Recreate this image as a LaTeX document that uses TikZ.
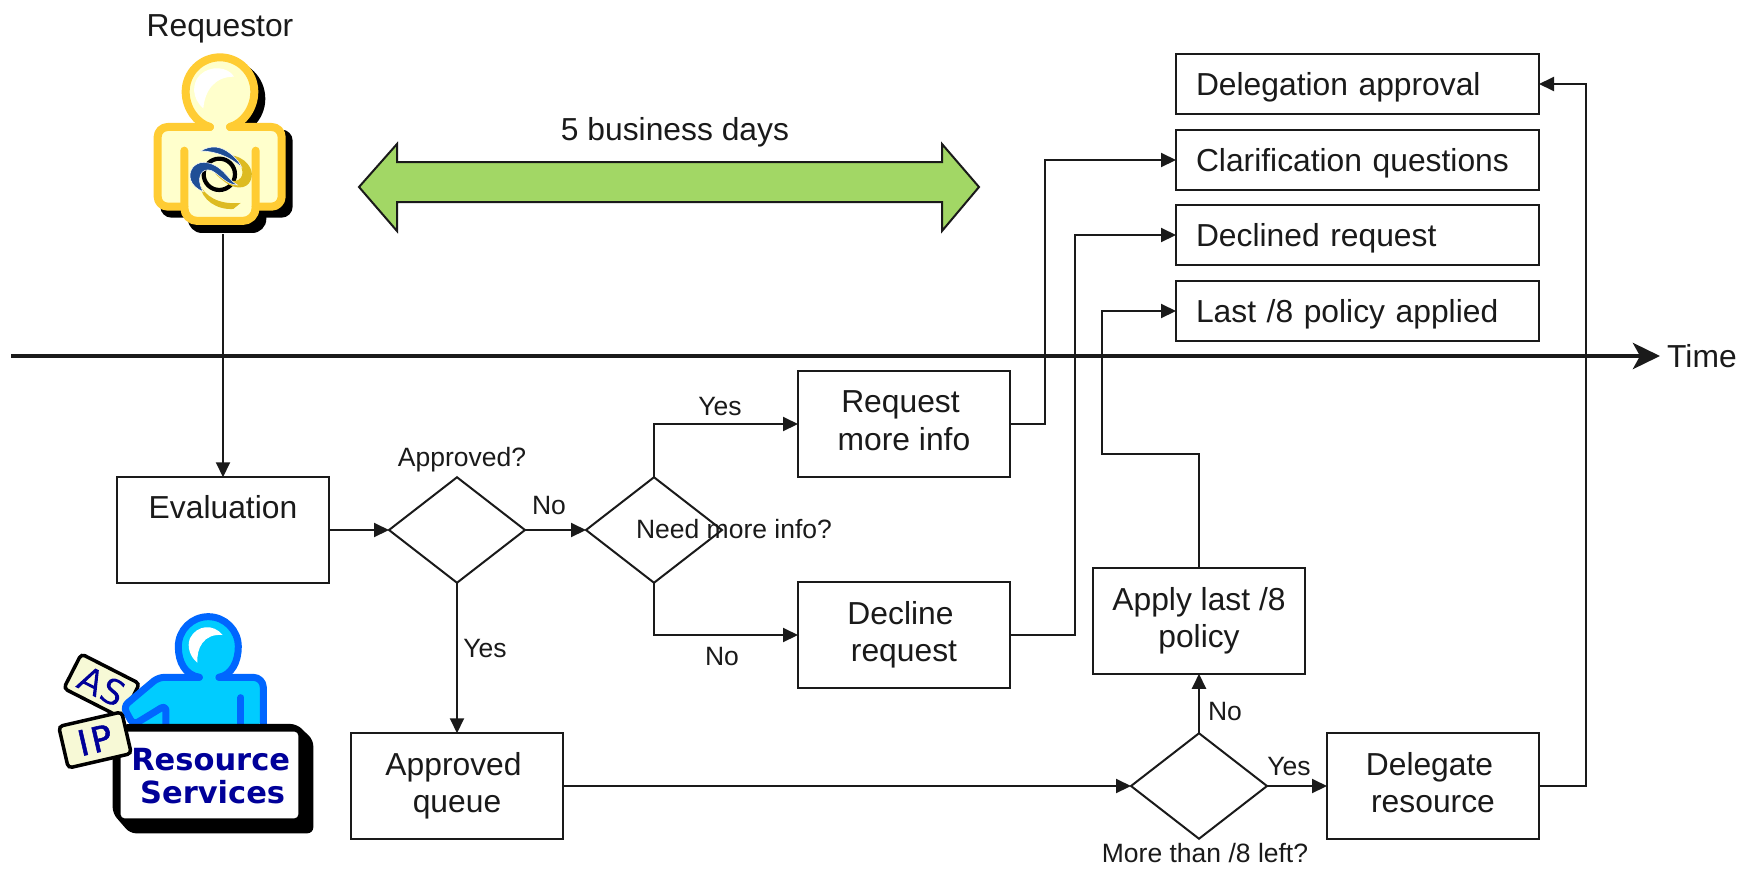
\documentclass[tikz,border=0pt]{standalone}
\usepackage{fontspec}
\setmainfont{Liberation Sans}
\newfontfamily\dvb{DejaVu Sans}
\usetikzlibrary{shapes.geometric,arrows.meta}
\definecolor{ink}{HTML}{1A1A1A}
\definecolor{navyt}{HTML}{000099}
\definecolor{ygold}{HTML}{FFCC33}
\definecolor{ycream}{HTML}{FFFFCC}
\definecolor{bstroke}{HTML}{0066FF}
\definecolor{bfill}{HTML}{00CCFF}
\definecolor{garrow}{HTML}{A2D765}
\definecolor{cardf}{HTML}{F7F9D6}
\definecolor{lblue}{HTML}{1F4E96}
\definecolor{lgold}{HTML}{DDBB22}
\newcommand{\bigf}{\fontsize{31.8}{37.5}\selectfont}
\newcommand{\smf}{\fontsize{26.5}{30}\selectfont}
\newcommand{\lastd}{\rule[-6.7pt]{0pt}{1pt}}
\newcommand{\tsp}{\hspace*{7pt}}
\tikzset{
  box/.style={draw=ink,line width=2pt,fill=white,minimum width=212,minimum height=105.5,align=center,inner sep=0pt,outer sep=0pt,font=\bigf,text=ink},
  resbox/.style={draw=ink,line width=2pt,fill=white,minimum width=363,minimum height=60,text width=323,align=left,inner xsep=20,inner ysep=0pt,outer sep=0pt,font=\bigf,text=ink,text height=23pt,text depth=0pt},
  dec/.style={draw=ink,line width=2pt,fill=white,diamond,minimum width=136,minimum height=105.5,inner sep=0pt,outer sep=0pt},
  lbl/.style={font=\smf,text=ink,inner sep=0pt},
  biglbl/.style={font=\bigf,text=ink,inner sep=0pt},
  conn/.style={draw=ink,line width=2pt,-{Triangle[length=15pt,width=14pt]}},
}
\begin{document}
\begin{tikzpicture}[x=1pt,y=-1pt]
\useasboundingbox (0,0) rectangle (1749,868);
\fill[white] (0,0) rectangle (1749,868);

% Requestor icon (coordinates: 3x zoomed units)
\begin{scope}[shift={(120,0)},x=0.3333pt,y=-0.3333pt]
  \begin{scope}[shift={(21,21)}]
    \fill[black] (300,275) circle[radius=115];
    \fill[black,rounded corners=11pt] (100,368) rectangle (497,632);
    \fill[black,rounded corners=14pt] (183,500) rectangle (418,678);
  \end{scope}
  \fill[ycream] (300,275) circle[radius=110];
  \fill[ycream,rounded corners=10pt] (108,376) rectangle (490,625);
  \fill[ycream,rounded corners=13pt] (188,500) rectangle (412,668);
  \draw[ygold,line width=8pt,line cap=round,line join=round]
    (270,381) .. controls (230,370) and (197,325) .. (197,275)
    arc[start angle=180,end angle=360,radius=103]
    .. controls (403,325) and (370,370) .. (330,381);
  \draw[ygold,line width=8pt,line cap=round,line join=round,rounded corners=10pt]
    (330,381) -- (485,381) -- (485,620) -- (407,620);
  \draw[ygold,line width=8pt,line cap=round,line join=round,rounded corners=10pt]
    (270,381) -- (113,381) -- (113,620) -- (193,620);
  \draw[ygold,line width=8pt,line cap=round,line join=round,rounded corners=13pt]
    (193,452) -- (193,663) -- (407,663) -- (407,452);
  \fill[white] (342,230) .. controls (325,200) and (270,195) .. (240,225) .. controls (215,250) and (215,295) .. (250,325) .. controls (255,270) and (285,230) .. (342,230) -- cycle;
  % logo
  \begin{scope}[shift={(180,405)}]
    \draw[black,line width=4.2pt] (118,118) circle[radius=47];
    \fill[lgold] (150,60) .. controls (195,65) and (220,100) .. (215,125) .. controls (210,160) and (175,165) .. (145,148) .. controls (125,135) and (115,125) .. (105,115) .. controls (130,130) and (150,145) .. (175,135) .. controls (200,120) and (185,80) .. (150,60) -- cycle;
    \fill[lgold] (60,150) .. controls (75,180) and (110,210) .. (182,204) -- (160,222) .. controls (110,225) and (65,195) .. (60,150) -- cycle;
    \filldraw[lblue,draw=white,line width=0.5pt] (62,48) .. controls (95,28) and (125,35) .. (150,55) .. controls (170,70) and (180,85) .. (185,97) .. controls (150,65) and (105,48) .. (62,48) -- cycle;
    \filldraw[lblue,draw=white,line width=0.5pt] (70,170) .. controls (30,155) and (20,120) .. (40,95) .. controls (65,70) and (105,85) .. (130,110) .. controls (145,125) and (155,140) .. (172,150) .. controls (140,150) and (120,120) .. (95,107) .. controls (65,95) and (45,130) .. (70,170) -- cycle;
  \end{scope}
\end{scope}
\coordinate (reqicon) at (223,234);
\node[biglbl] (reqlbl) at (220,28.5) {Requestor};

% 5 business days arrow
\node[biglbl] (dayslbl) at (675,132) {5 business days};
\path[draw=ink,line width=2pt,fill=garrow,line join=miter]
  (359,187) -- (397,144) -- (397,162) -- (942,162) -- (942,144) -- (979,187) -- (942,231) -- (942,202) -- (397,202) -- (397,231) -- cycle;

% Time axis
\coordinate (tstart) at (11,356);
\coordinate (tend) at (1660,356);
\draw[draw=ink,line width=4.5pt,-{Stealth[length=27pt,width=26pt,inset=7pt]}] (tstart) -- (tend);
\node[biglbl,anchor=west] (timelbl) at (1667,356) {Time};

% Result boxes
\node[resbox] (b1) at (1357.5,84) {Delegation approval};
\node[resbox] (b2) at (1357.5,160) {Clarification questions};
\node[resbox] (b3) at (1357.5,235) {Declined request};
\node[resbox] (b4) at (1357.5,311) {Last /8 policy applied};

% Process boxes
\node[box] (eval) at (223,530) {Evaluation\\[8pt]\mbox{}};
\node[dec] (appr) at (457,530) {};
\node[dec] (need) at (654,530) {};
\node[box] (req) at (904,424) {Request\tsp\\more info\lastd};
\node[box] (decl) at (904,635) {Decline\tsp\\request\lastd};
\node[box] (queue) at (457,786) {Approved\tsp\\queue\lastd};
\node[dec] (left) at (1199,786) {};
\node[box] (dele) at (1433,786) {Delegate\tsp\\resource\lastd};
\node[box] (apply) at (1199,621) {Apply last /8\\policy\lastd};

% Connectors
\coordinate (c1) at (1045,424);
\coordinate (c2) at (1075,635);
\coordinate (c3) at (1199,454);
\coordinate (c4) at (1102,454);
\coordinate (c5) at (1586,786);
\draw[conn] (reqicon) -- (eval.north);
\draw[conn] (eval.east) -- (appr.west);
\draw[conn] (appr.east) -- (need.west);
\draw[conn] (appr.south) -- (queue.north);
\draw[conn] (need.north) |- (req.west);
\draw[conn] (need.south) |- (decl.west);
\draw[conn] (req.east) -- (c1) |- (b2.west);
\draw[conn] (decl.east) -- (c2) |- (b3.west);
\draw[conn] (apply.north) -- (c3) -- (c4) |- (b4.west);
\draw[conn] (queue.east) -- (left.west);
\draw[conn] (left.north) -- (apply.south);
\draw[conn] (left.east) -- (dele.west);
\draw[conn] (dele.east) -- (c5) |- (b1.east);

% Labels
\node[lbl] (l1) at (462,460) {Approved?};
\node[lbl] (l2) at (549,506) {No};
\node[lbl] (l3) at (720,407) {Yes};
\node[lbl] (l4) at (734,529) {Need more info?};
\node[lbl] (l5) at (722,657) {No};
\node[lbl] (l6) at (485,649) {Yes};
\node[lbl] (l7) at (1225,712) {No};
\node[lbl] (l8) at (1289,767) {Yes};
\node[lbl] (l9) at (1205,853) {More than /8 left?};

% Resource Services icon
\begin{scope}[shift={(40,600)},x=0.3333pt,y=-0.3333pt]
  \begin{scope}[shift={(185,258)},rotate=-27]
    \draw[black,fill=cardf,line width=3.5pt,rounded corners=4pt] (-98,-58) rectangle (98,58);
    \node[font=\dvb\fontsize{35}{35}\selectfont,text=navyt,rotate=-27,inner sep=0pt,draw=navyt,draw opacity=0] (as) at (0,0) {\addfontfeature{FakeBold=1.5}A\kern1pt S};
  \end{scope}
  \fill[bfill] (505,140) circle[radius=95];
  \fill[bfill,rounded corners=8pt] (505,232) -- (355,232) -- (250,320) -- (280,375) -- (670,375) -- (670,232) -- cycle;
  \fill[white] (548,105) .. controls (520,70) and (470,75) .. (450,115) .. controls (440,140) and (450,170) .. (472,188) .. controls (470,145) and (490,100) .. (548,105) -- cycle;
  \draw[bstroke,line width=7pt,line cap=round,line join=round]
    (478,232) .. controls (435,225) and (415,185) .. (415,140) arc[start angle=180,end angle=360,radius=90] .. controls (595,185) and (575,225) .. (537,232);
  \draw[bstroke,line width=7pt,line cap=round,line join=round,rounded corners=10pt]
    (537,232) -- (670,232) -- (670,375);
  \draw[bstroke,line width=7pt,line cap=round,line join=round,rounded corners=6pt]
    (478,232) -- (355,232) -- (250,320) -- (280,375) -- (378,315) -- (378,375);
  \draw[bstroke,line width=7pt,line cap=round] (603,293) -- (603,375);
  \fill[black,rounded corners=6pt] (250,372) -- (770,372) -- (820,420) -- (820,700) -- (270,700) -- (218,640) -- (218,400) -- cycle;
  \fill[white,rounded corners=4pt] (242,395) rectangle (775,655);
  \node[font=\dvb\bfseries\fontsize{30.5}{33}\selectfont,text=navyt,align=center,inner sep=0pt] (rs) at (512,528) {Resource\\\hspace*{4pt}Services};
  \begin{scope}[shift={(165,420)},rotate=13]
    \draw[black,fill=cardf,line width=3.5pt,rounded corners=4pt] (-97,-64) rectangle (97,64);
    \node[font=\dvb\fontsize{35}{35}\selectfont,text=navyt,rotate=13,inner sep=0pt] (ip) at (0,0) {\addfontfeature{FakeBold=1.5}I\kern3pt P};
  \end{scope}
\end{scope}
\end{tikzpicture}
\end{document}
